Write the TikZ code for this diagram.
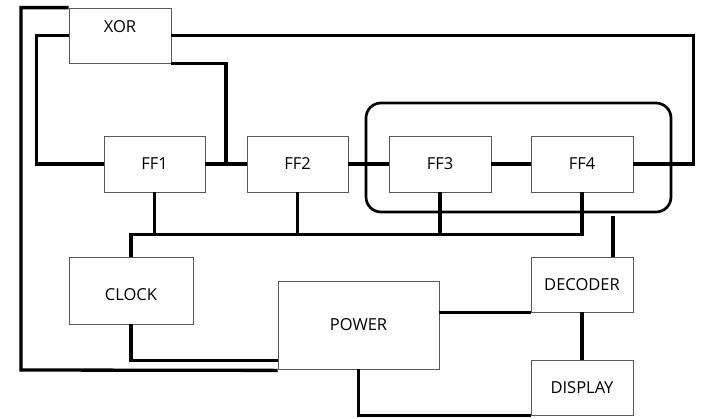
\documentclass[tikz,border=0pt]{standalone}
\usepackage{fontspec}
\setmainfont{Open Sans}
\usetikzlibrary{calc}

\begin{document}
\begin{tikzpicture}[x=1pt, y=-1pt,
    font=\fontsize{16.5}{19}\selectfont,
    block/.style={draw=black!65, line width=0.8pt, fill=white, inner sep=0pt,
        minimum width=102pt, minimum height=55pt},
    wire/.style={line width=3.3pt},
    group/.style={line width=2.7pt, rounded corners=15pt}]
    \useasboundingbox (0,0) rectangle (707,418);

    % Blocks
    \node[block, label={[yshift=8.5pt]center:XOR}] (xor) at (120,35.5) {};
    \node[block, minimum width=101pt, minimum height=56pt] (ff1) at (154.5,164) {FF1};
    \node[block, minimum width=101pt, minimum height=56pt] (ff2) at (297.5,164) {FF2};
    \node[block, minimum height=56pt] (ff3) at (440,164) {FF3};
    \node[block, minimum height=56pt] (ff4) at (582,164) {FF4};
    \node[block, minimum width=124pt, minimum height=67pt,
        label={[yshift=-4pt]center:CLOCK}] (clock) at (131,290.5) {};
    \node[block, minimum width=161pt, minimum height=88pt] (power) at (358.5,325) {POWER};
    \node[block] (decoder) at (582,284.5) {DECODER};
    \node[block] (display) at (582,387.5) {DISPLAY};

    % Group round FF3 and FF4
    \draw[group] (366,103) rectangle (671,212);

    % Feedback through XOR
    \draw[wire] (xor.north west) -| (21,370) -- ([yshift=-1pt]power.south west);
    \draw[wire] (xor.west) -- ++(-32,0) |- (ff1.west);
    \draw[wire] (xor.south east) -| ($(ff1.east)!.5!(ff2.west)$);
    \draw[wire] (xor.east) -- ++(522,0) |- (ff4.east);

    % Shift chain
    \draw[wire] (ff1.east) -- (ff2.west);
    \draw[wire] (ff2.east) -- (ff3.west);
    \draw[wire] (ff3.east) -- (ff4.west);

    % Clock bus
    \coordinate (busend) at ([yshift=-42pt]ff4.south);
    \draw[wire] (clock.north) |- (busend) -- (ff4.south);
    \foreach \f in {ff1,ff2,ff3}
        \draw[wire] (\f.south) -- (\f.south |- busend);

    % Power and output
    \draw[wire] (clock.south) |- ([yshift=9pt]power.south west);
    \draw[wire] (power.east |- decoder.south west) -- (decoder.south west);
    \coordinate (stub) at (613,216);
    \draw[wire] (stub) -- (stub |- decoder.north);
    \draw[wire] (decoder.south) -- (display.north);
    \draw[wire] (power.south) |- (display.south west);

\end{tikzpicture}
\end{document}
